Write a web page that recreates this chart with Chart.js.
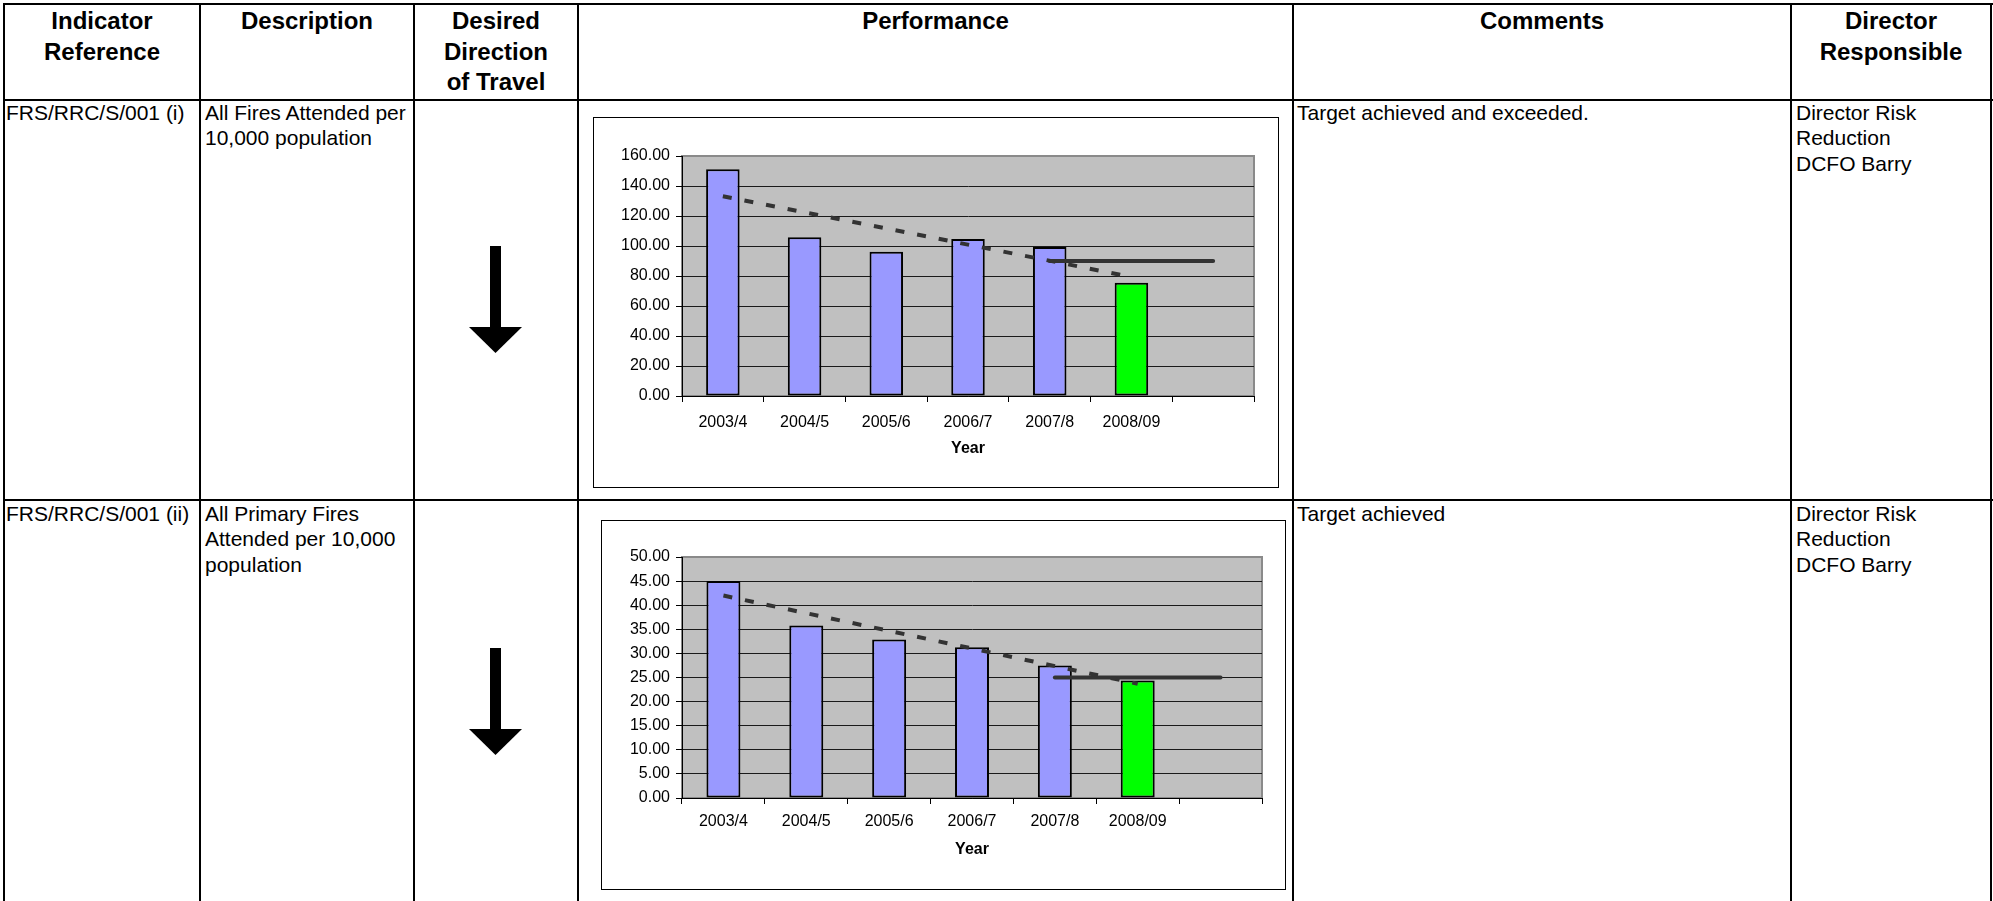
<!DOCTYPE html>
<html>
<head>
<meta charset="utf-8">
<title>Risk Reduction Performance Indicators</title>
<script src="https://cdn.jsdelivr.net/npm/chart.js@4.4.1/dist/chart.umd.min.js"></script>
<style>
  html, body { margin: 0; padding: 0; background: #fff; }
  body {
    position: relative; width: 1993px; height: 901px; overflow: hidden;
    font-family: "Liberation Sans", Arial, sans-serif; color: #000;
  }
  .hl { position: absolute; left: 3px; width: 1990px; height: 2px; background: #000; }
  .vl { position: absolute; top: 3px; width: 2px; height: 898px; background: #000; }
  .head {
    position: absolute; top: 6px; text-align: center; font-weight: bold;
    font-size: 24px; line-height: 30.5px;
  }
  .cell { position: absolute; font-size: 21px; line-height: 25.4px; white-space: nowrap; }
  .chartbox { position: absolute; box-sizing: border-box; border: 1px solid #000; background: #fff; }
  .chartbox canvas { display: block; }
  svg.arrow { position: absolute; left: 0; top: 0; overflow: visible; }
</style>
</head>
<body>

<!-- table rules -->
<div class="hl" style="top:3px"></div>
<div class="hl" style="top:99px"></div>
<div class="hl" style="top:499px"></div>
<div class="vl" style="left:3px"></div>
<div class="vl" style="left:199px"></div>
<div class="vl" style="left:413px"></div>
<div class="vl" style="left:577px"></div>
<div class="vl" style="left:1292px"></div>
<div class="vl" style="left:1790px"></div>
<div class="vl" style="left:1990px"></div>

<!-- header row -->
<div class="head" style="left:5px;width:194px">Indicator<br>Reference</div>
<div class="head" style="left:201px;width:212px">Description</div>
<div class="head" style="left:415px;width:162px">Desired<br>Direction<br>of Travel</div>
<div class="head" style="left:579px;width:713px">Performance</div>
<div class="head" style="left:1294px;width:496px">Comments</div>
<div class="head" style="left:1792px;width:198px">Director<br>Responsible</div>

<!-- row 1 -->
<div class="cell" style="left:6px;top:100px">FRS/RRC/S/001 (i)</div>
<div class="cell" style="left:205px;top:100px">All Fires Attended per<br>10,000 population</div>
<div class="cell" style="left:1297px;top:100px">Target achieved and exceeded.</div>
<div class="cell" style="left:1796px;top:100px">Director Risk<br>Reduction<br>DCFO Barry</div>

<!-- row 2 -->
<div class="cell" style="left:6px;top:501px">FRS/RRC/S/001 (ii)</div>
<div class="cell" style="left:205px;top:501px">All Primary Fires<br>Attended per 10,000<br>population</div>
<div class="cell" style="left:1297px;top:501px">Target achieved</div>
<div class="cell" style="left:1796px;top:501px">Director Risk<br>Reduction<br>DCFO Barry</div>

<!-- desired direction: down arrows -->
<svg class="arrow" width="1993" height="901">
  <g fill="#000">
    <rect x="490" y="246" width="11" height="82"/>
    <polygon points="469,327 522,327 495.5,353"/>
    <rect x="490" y="648" width="11" height="82"/>
    <polygon points="469,729 522,729 495.5,755"/>
  </g>
</svg>

<div class="chartbox" style="left:593px;top:117px;width:686px;height:371px">
  <canvas id="allFiresChart" width="684" height="369"></canvas>
</div>
<div class="chartbox" style="left:601px;top:520px;width:685px;height:370px">
  <canvas id="primaryFiresChart" width="683" height="368"></canvas>
</div>

<script>
// Financial years on the category axis (last slot is left empty, as on the worksheet)
const yearLabels = ['2003/4', '2004/5', '2005/6', '2006/7', '2007/8', '2008/09', ''];

// FRS/RRC/S/001 (i): all fires attended per 10,000 population
const allFiresValues = [151.1, 105.9, 96.1, 104.7, 99.4, 75.5, null];
const allFiresTarget = [null, null, null, null, 90, 90, 90];
const allFiresTrend  = [133.2, null, null, null, null, 79.4, null];
const allFiresAxis   = [0, 160, 20];   // min, max, step

// FRS/RRC/S/001 (ii): all primary fires attended per 10,000 population
const primaryFiresValues = [45.0, 35.8, 32.9, 31.3, 27.5, 24.4, null];
const primaryFiresTarget = [null, null, null, null, 25, 25, 25];
const primaryFiresTrend  = [42.0, null, null, null, null, 23.7, null];
const primaryFiresAxis   = [0, 50, 5];

// Past years in lilac, the current year in green
const barColours = ['#9999FF', '#9999FF', '#9999FF', '#9999FF', '#9999FF', '#00FF00', '#9999FF'];

Chart.defaults.font.family = '"Liberation Sans", Arial, sans-serif';
Chart.defaults.color = '#000';

// Grey plot area with a soft grey frame, like the spreadsheet chart
const plotBackground = {
  id: 'plotBackground',
  beforeDraw(chart) {
    const { ctx, chartArea: a } = chart;
    ctx.save();
    ctx.fillStyle = '#C0C0C0';
    ctx.fillRect(a.left, a.top, a.right - a.left, a.bottom - a.top);
    ctx.strokeStyle = '#8a8a8a';
    ctx.lineWidth = 2;
    ctx.strokeRect(a.left, a.top, a.right - a.left, a.bottom - a.top);
    ctx.restore();
  }
};

function buildChart(id, values, target, trend, axis, frame) {
  const [yMin, yMax, yStep] = axis;
  return new Chart(document.getElementById(id), {
    type: 'bar',
    plugins: [plotBackground],
    data: {
      labels: yearLabels,
      datasets: [
        {
          type: 'line', data: trend, order: 0,
          borderColor: '#333333', borderWidth: 4, borderDash: [9, 13],
          borderCapStyle: 'butt', spanGaps: true, pointRadius: 0, fill: false
        },
        {
          type: 'line', data: target, order: 0,
          borderColor: '#333333', borderWidth: 4, borderCapStyle: 'round',
          pointRadius: 0, fill: false
        },
        {
          type: 'bar', data: values, order: 1,
          backgroundColor: barColours, borderColor: '#000', borderWidth: 2,
          borderSkipped: false, barPercentage: 0.41, categoryPercentage: 1
        }
      ]
    },
    options: {
      responsive: false,
      animation: false,
      events: [],
      layout: { padding: { left: 0, top: frame.top, right: frame.right, bottom: 0 } },
      plugins: { legend: { display: false }, tooltip: { enabled: false } },
      scales: {
        x: {
          offset: true,
          afterFit: s => { s.height = frame.xHeight; },
          grid: { offset: true, drawOnChartArea: false, tickLength: 6, tickColor: '#000', color: '#000' },
          border: { color: '#000', width: 1 },
          ticks: { font: { size: 16 }, padding: frame.labelPad, maxRotation: 0, autoSkip: false },
          title: {
            display: true, text: 'Year',
            font: { size: 16, weight: 'bold' },
            padding: { top: 0, bottom: frame.titlePad }
          }
        },
        y: {
          min: yMin, max: yMax,
          afterFit: s => { s.width = frame.yWidth; },
          grid: {
            color: c => (c.tick && c.tick.value === yMax) ? 'rgba(0,0,0,0)' : '#1a1a1a',
            tickColor: '#000', tickLength: 6, lineWidth: 1
          },
          border: { color: '#000', width: 1 },
          ticks: { stepSize: yStep, font: { size: 16 }, padding: 6, callback: v => v.toFixed(2) }
        }
      }
    }
  });
}

buildChart('allFiresChart', allFiresValues, allFiresTarget, allFiresTrend, allFiresAxis,
  { top: 38, right: 24, xHeight: 91, yWidth: 88, labelPad: 11, titlePad: 29 });
buildChart('primaryFiresChart', primaryFiresValues, primaryFiresTarget, primaryFiresTrend, primaryFiresAxis,
  { top: 36, right: 23, xHeight: 91, yWidth: 80, labelPad: 8, titlePad: 30 });
</script>
</body>
</html>
